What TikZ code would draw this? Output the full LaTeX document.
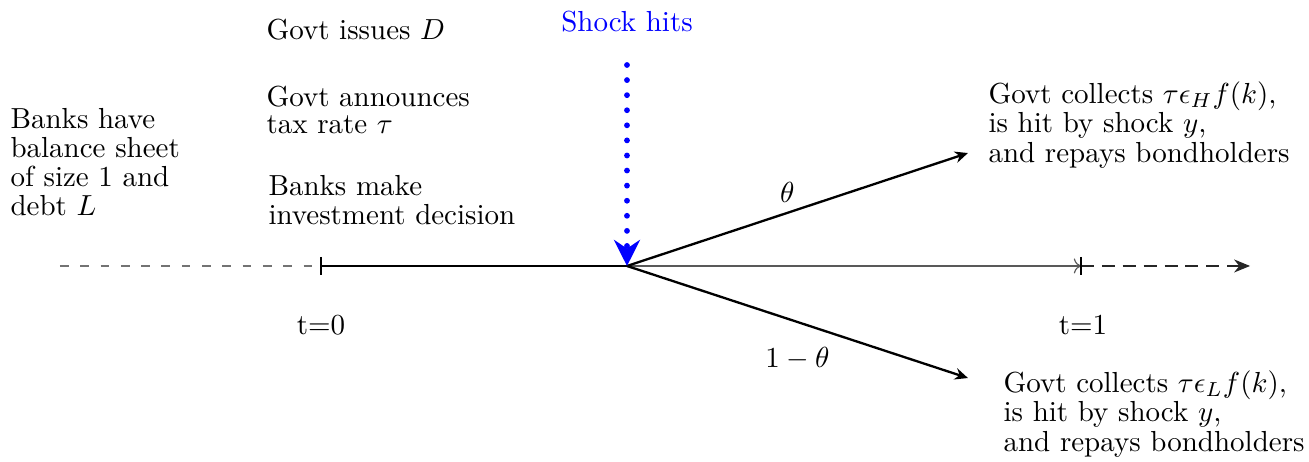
\documentclass[tikz,border=0pt]{standalone}
\usetikzlibrary{arrows.meta}

\begin{document}
\begin{tikzpicture}[
        popis/.style={align=left, anchor=west, inner sep=0pt}
    ]
        \useasboundingbox (0,0) rectangle (15.867,-5.6);

        % časová osa
        \draw[black!55, dash pattern=on 3pt off 4pt] (0.727,-3.224) coordinate (S)
        -- (3.891,-3.224) coordinate (T0);
        \draw[thick] (T0) -- (7.6,-3.224) coordinate (B);
        \draw[black!65, ->] (B) -- (13.103,-3.224) coordinate (T1);
        \draw[black!85, dash pattern=on 4.5pt off 2.7pt, -{Stealth[length=5.5pt,width=4.5pt]}]
        (T1) -- (15.152,-3.224) coordinate (E);
        \draw[semithick] (T0) ++(0,0.11) -- ++(0,-0.22);
        \draw[semithick] (T1) ++(0,0.11) -- ++(0,-0.22);

        \node (t0) at (3.891,-3.939) {t=0};
        \node (t1) at (13.127,-3.939) {t=1};

        % větve
        \draw[thick, -{Stealth[length=4.5pt,width=4pt]}] (B)
        -- node[pos=0.47, above] (p) {$\theta$}
        (11.733,-1.855) coordinate (H);
        \draw[thick, -{Stealth[length=4.5pt,width=4pt]}] (B)
        -- node[midway, below=5pt] (q) {$1-\theta$}
        (11.733,-4.582) coordinate (L);

        % šok
        \node[blue] (sok) at (7.6,-0.267) {Shock hits};
        \draw[blue, line width=2pt, line cap=round, dash pattern=on 0pt off 5.2pt,
        -{Stealth[length=9pt,width=9pt,inset=3pt]}] (7.6,-0.788) coordinate (Z) -- (B);

        % popisky
        \node[popis] (banky) at (0.121,-1.964)
        {Banks have\\[-2pt]balance sheet\\[-2pt]of size 1 and\\[-2pt]debt $L$};
        \node[popis] (dluh) at (3.224,-0.364) {Govt issues $D$};
        \node[popis] (dan) at (3.224,-1.333) {Govt announces\\[-2.5pt]tax rate $\tau$};
        \node[popis] (investice) at (3.248,-2.424) {Banks make\\[-2pt]investment decision};
        \node[popis] (vysoky) at (11.976,-1.515)
        {Govt collects $\tau\epsilon_H f(k)$,\\[-1.8pt]is hit by shock $y$,\\[-1.8pt]and repays bondholders};
        \node[popis] (nizky) at (12.158,-5.018)
        {Govt collects $\tau\epsilon_L f(k)$,\\[-1.8pt]is hit by shock $y$,\\[-1.8pt]and repays bondholders};
    \end{tikzpicture}
\end{document}
